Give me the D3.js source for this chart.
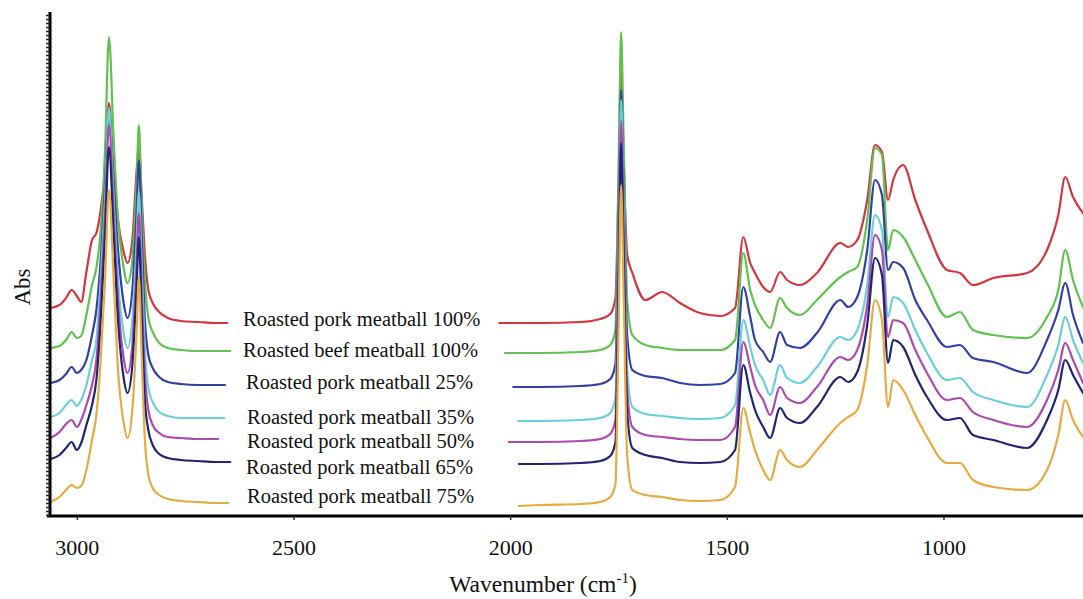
<!DOCTYPE html>
<html><head><meta charset="utf-8">
<script src="https://cdn.jsdelivr.net/npm/d3@7"></script>
<style>body{margin:0;background:#fff;}svg{display:block;}</style>
</head><body>
<svg id="chart" width="1083" height="599"></svg>
<script>
// ---------- data ----------
const seriesNames = [
  "Roasted pork meatball 100%",
  "Roasted beef meatball 100%",
  "Roasted pork meatball 25%",
  "Roasted pork meatball 35%",
  "Roasted pork meatball 50%",
  "Roasted pork meatball 65%",
  "Roasted pork meatball 75%"
];
const seriesColors = ["#d2363f", "#62c24f", "#3340a3", "#6acfd8", "#ad4bad", "#1f2570", "#e6aa42"];
const xTicks = [3000, 2500, 2000, 1500, 1000];

// C-H stretching region (left segment); last value of each series sits at leftEndWn
const leftWn = [3062,3040,3025,3012,3000,2990,2978,2965,2955,2945,2935,2926,2915,2905,2893,2883,2872,2862,2857,2850,2843,2835,2825,2810,2790,2760,2720,2680];
const leftEndWn = [2653, 2646, 2658, 2660, 2674, 2646, 2651];

const porkLeft   = [2.07,2.10,2.17,2.25,2.19,2.13,2.43,2.75,2.82,3.05,3.45,4.12,3.45,2.95,2.65,2.52,2.75,3.45,3.68,3.15,2.60,2.25,2.12,2.03,1.97,1.94,1.93,1.92,1.92];
const beefLeft   = [1.67,1.69,1.75,1.83,1.77,1.79,2.00,2.30,2.47,2.85,3.65,4.78,3.75,2.95,2.50,2.32,2.55,3.35,3.90,3.05,2.35,1.97,1.83,1.72,1.67,1.65,1.64,1.64,1.64];
const p25Left    = [1.32,1.35,1.41,1.48,1.42,1.45,1.55,1.80,2.05,2.55,3.30,4.00,3.30,2.65,2.15,1.97,2.25,3.05,3.55,2.75,1.95,1.60,1.47,1.38,1.33,1.31,1.30,1.30,1.30];
const p35Left    = [0.98,1.02,1.10,1.15,1.09,1.15,1.30,1.55,1.75,2.35,3.15,4.07,3.15,2.35,1.85,1.67,1.95,2.75,3.23,2.45,1.65,1.27,1.13,1.03,0.99,0.97,0.97,0.97,0.97];
const p50Left    = [0.77,0.83,0.91,0.95,0.88,0.95,1.10,1.30,1.55,2.15,3.00,3.90,3.00,2.15,1.60,1.42,1.70,2.50,3.02,2.20,1.40,1.05,0.90,0.82,0.78,0.77,0.76,0.76,0.76];
const p65Left    = [0.56,0.60,0.67,0.73,0.65,0.72,0.90,1.10,1.35,1.95,2.80,3.68,2.80,1.95,1.40,1.22,1.50,2.30,2.78,1.95,1.15,0.85,0.70,0.61,0.57,0.55,0.54,0.53,0.53];
const p75Left    = [0.13,0.18,0.25,0.30,0.27,0.29,0.45,0.75,1.00,1.55,2.35,3.25,2.35,1.45,0.95,0.77,1.05,1.85,2.38,1.55,0.75,0.40,0.27,0.20,0.16,0.14,0.13,0.12,0.12];

// fingerprint region (right segment); first value of each series sits at rightStartWn
const rightStartWn = [2025, 2012, 1993, 1982, 2003, 1980, 1980];
const rightWn = [1931,1838,1792,1769,1757,1750,1744,1738,1730,1718,1688,1649,1608,1562,1515,1481,1462,1446,1435,1416,1400,1377,1361,1331,1292,1238,1220,1199,1176,1158,1142,1128,1116,1093,1065,1038,992,962,932,885,807,761,735,719,701,678];

const porkRight = [1.92,1.92,1.93,1.96,2.01,2.17,3.30,4.43,3.55,2.60,2.42,2.15,2.23,2.12,2.02,1.99,2.07,2.78,2.52,2.42,2.28,2.23,2.43,2.35,2.30,2.42,2.72,2.68,2.75,3.15,3.70,3.63,3.15,3.35,3.50,3.15,2.85,2.45,2.42,2.30,2.37,2.42,2.65,3.00,3.38,3.18,3.02];
const beefRight = [1.62,1.62,1.63,1.65,1.70,1.85,3.39,4.83,3.71,2.15,1.80,1.70,1.67,1.65,1.65,1.65,1.75,2.62,2.25,2.10,1.95,1.87,2.17,2.07,2.00,2.15,2.38,2.43,2.48,2.95,3.67,3.60,2.65,2.85,2.78,2.55,2.32,1.98,2.03,1.85,1.80,1.77,1.98,2.25,2.65,2.35,2.08];
const p25Right  = [1.28,1.28,1.29,1.31,1.36,1.51,2.95,4.25,3.20,1.80,1.45,1.39,1.37,1.32,1.30,1.31,1.42,2.28,1.98,1.75,1.63,1.53,1.83,1.70,1.67,1.82,2.15,2.08,2.18,2.65,3.35,3.20,2.45,2.53,2.47,2.15,1.95,1.68,1.70,1.57,1.53,1.42,1.75,2.05,2.32,2.00,1.72];
const p35Right  = [0.94,0.94,0.95,0.97,1.02,1.17,2.71,4.15,3.03,1.45,1.08,1.01,0.99,0.97,0.96,0.97,1.10,1.95,1.68,1.50,1.35,1.20,1.50,1.37,1.32,1.48,1.78,1.75,1.85,2.30,3.00,2.85,1.98,2.18,2.12,1.85,1.62,1.35,1.37,1.23,1.15,1.08,1.40,1.70,1.98,1.75,1.52];
const p50Right  = [0.73,0.73,0.74,0.76,0.81,0.95,2.50,3.94,2.82,1.25,0.88,0.80,0.78,0.76,0.75,0.75,0.88,1.73,1.48,1.30,1.15,1.00,1.28,1.17,1.12,1.28,1.58,1.55,1.65,2.10,2.80,2.65,1.78,1.95,1.92,1.65,1.42,1.15,1.17,1.03,0.95,0.88,1.15,1.45,1.72,1.55,1.32];
const p65Right  = [0.51,0.51,0.52,0.54,0.59,0.73,2.28,3.72,2.60,1.03,0.67,0.60,0.57,0.53,0.52,0.53,0.65,1.50,1.22,1.05,0.88,0.77,1.07,0.97,0.92,1.08,1.38,1.33,1.43,1.90,2.57,2.40,1.52,1.75,1.68,1.40,1.18,0.95,0.97,0.80,0.75,0.67,0.95,1.25,1.55,1.40,1.22];
const p75Right  = [0.09,0.10,0.11,0.13,0.18,0.31,1.85,3.30,2.18,0.60,0.25,0.20,0.18,0.15,0.14,0.15,0.28,1.07,0.82,0.65,0.45,0.35,0.65,0.55,0.48,0.65,0.92,0.98,1.05,1.50,2.15,1.95,1.08,1.35,1.25,1.00,0.78,0.52,0.52,0.35,0.28,0.25,0.45,0.80,1.15,0.95,0.78];

const leftValues  = [porkLeft, beefLeft, p25Left, p35Left, p50Left, p65Left, p75Left];
const rightValues = [porkRight, beefRight, p25Right, p35Right, p50Right, p65Right, p75Right];

// ---------- layout ----------
const W = 1083, H = 599;
const plot = {left: 50, right: 1083, top: 13, bottom: 515};
const labelX = [243, 243, 246, 247, 247, 246, 247];
const labelY = [326, 357, 389, 424, 448, 474, 503];
const serif = "'Liberation Serif','Times New Roman',serif";

const svg = d3.select("#chart");
const x = d3.scaleLinear().domain([3062, 678]).range([plot.left, plot.right]);
const y = d3.scaleLinear().domain([0, 5.02]).range([plot.bottom, plot.top]);

svg.append("defs").append("clipPath").attr("id", "clip")
  .append("rect").attr("x", plot.left + 1).attr("y", 0)
  .attr("width", plot.right - plot.left).attr("height", plot.bottom);

const line = d3.line().x(d => x(d[0])).y(d => y(d[1])).curve(d3.curveMonotoneX);

const g = svg.append("g").attr("clip-path", "url(#clip)");
seriesNames.forEach((name, i) => {
  const lw = leftWn.concat([leftEndWn[i]]);
  const left = lw.map((w, k) => [w, leftValues[i][k]]);
  const rw = [rightStartWn[i]].concat(rightWn);
  const right = rw.map((w, k) => [w, rightValues[i][k]]);
  [left, right].forEach(seg => {
    g.append("path").datum(seg)
      .attr("d", line)
      .attr("fill", "none")
      .attr("stroke", seriesColors[i])
      .attr("stroke-width", 2.2)
      .attr("stroke-linejoin", "round")
      .attr("stroke-linecap", "round");
  });
  svg.append("text")
    .attr("x", labelX[i]).attr("y", labelY[i])
    .attr("font-family", serif).attr("font-size", 20.5)
    .attr("fill", "#111")
    .text(name);
});

// x axis
const xAxis = svg.append("g").attr("transform", `translate(0,${plot.bottom + 1})`)
  .call(d3.axisBottom(x).tickValues(xTicks).tickFormat(d3.format("d")).tickSize(4).tickSizeOuter(0));
xAxis.select(".domain").attr("stroke", "#000").attr("stroke-width", 3)
  .attr("d", `M${plot.left - 3},0H${W}`);
xAxis.selectAll(".tick line").attr("stroke", "#333").attr("stroke-width", 1.5);
xAxis.selectAll(".tick text")
  .attr("font-family", serif).attr("font-size", 22).attr("fill", "#111")
  .attr("y", 39).attr("dy", 0);

// y axis (ruler-like minor ticks, no labels)
const yAxis = svg.append("g").attr("transform", `translate(${plot.left},0)`)
  .call(d3.axisLeft(y).tickValues(d3.range(0, 5.02, 0.04)).tickSize(4).tickFormat("").tickSizeOuter(0));
yAxis.select(".domain").attr("stroke", "#000").attr("stroke-width", 3)
  .attr("d", `M0,${plot.top - 1}V${plot.bottom + 2}`);
yAxis.selectAll(".tick line").attr("stroke", "#222").attr("stroke-width", 1.5);

// axis titles
const xt = svg.append("text").attr("x", 543).attr("y", 592)
  .attr("text-anchor", "middle").attr("font-family", serif).attr("font-size", 23.5).attr("fill", "#111");
xt.append("tspan").text("Wavenumber (cm");
xt.append("tspan").attr("font-size", 15).attr("dy", -9).text("-1");
xt.append("tspan").attr("dy", 9).text(")");

svg.append("text").attr("transform", "translate(30,287) rotate(-90)")
  .attr("text-anchor", "middle").attr("font-family", serif).attr("font-size", 23).attr("fill", "#111")
  .text("Abs");
</script>
</body></html>
